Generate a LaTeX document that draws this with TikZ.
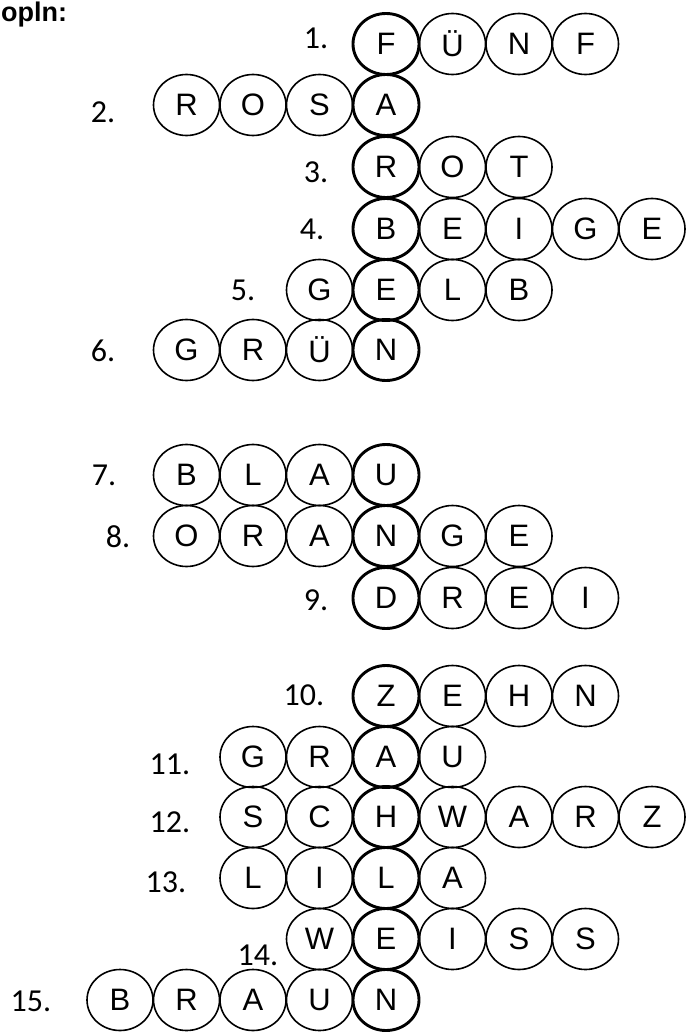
\documentclass[tikz,border=0pt]{standalone}
\usepackage{fontspec}
\setmainfont{Liberation Sans}
\newfontfamily\numfont{Carlito}
\usetikzlibrary{shapes.geometric}
\tikzset{
  cell/.style={draw=black, ellipse, line width=1.6pt, minimum width=66pt, minimum height=61pt, inner sep=0pt, font=\fontsize{31}{31}\selectfont},
  keycell/.style={cell, line width=2.9pt},
  lbl/.style={inner sep=0pt, font=\numfont\fontsize{32}{32}\selectfont},
  headtxt/.style={inner sep=0pt, anchor=base west, font=\bfseries\fontsize{27}{27}\selectfont}
}
\begin{document}
\begin{tikzpicture}[x=1pt,y=-1pt]
\useasboundingbox (0,0) rectangle (689,1032);
\clip (0,0) rectangle (689,1032);
\node[headtxt] (head) at (1,22) {opln:};
% rows: number / centre y / first column / letters
\foreach \r/\yy/\s/\word in {
  1/44/0/{F,Ü,N,F},
  2/105/-3/{R,O,S,A},
  3/167/0/{R,O,T},
  4/229/0/{B,E,I,G,E},
  5/290/-1/{G,E,L,B},
  6/350/-3/{G,R,Ü,N},
  7/475/-3/{B,L,A,U},
  8/536/-3/{O,R,A,N,G,E},
  9/598/0/{D,R,E,I},
  10/696/0/{Z,E,H,N},
  11/757/-2/{G,R,A,U},
  12/817/-2/{S,C,H,W,A,R,Z},
  13/878/-2/{L,I,L,A},
  14/939/-1/{W,E,I,S,S},
  15/1000/-4/{B,R,A,U,N}}{
  \foreach \L [count=\i from \s] in \word {
    \pgfmathtruncatemacro\j{\i+4}
    \ifnum\i=0 \def\sty{keycell}\else\def\sty{cell}\fi
    \node[\sty] (r\r c\j) at ({386+66.5*\i},\yy) {\L};
  }
}
\node[lbl] (n1) at (316,38) {1.};
\node[lbl] (n2) at (103,112) {2.};
\node[lbl] (n3) at (316,172) {3.};
\node[lbl] (n4) at (312,229) {4.};
\node[lbl] (n5) at (243,290) {5.};
\node[lbl] (n6) at (103,351) {6.};
\node[lbl] (n7) at (104,475) {7.};
\node[lbl] (n8) at (118,537) {8.};
\node[lbl] (n9) at (316,600) {9.};
\node[lbl] (n10) at (304,695) {10.};
\node[lbl] (n11) at (170,764) {11.};
\node[lbl] (n12) at (170,822) {12.};
\node[lbl] (n13) at (166,882) {13.};
\node[lbl] (n14) at (258,955) {14.};
\node[lbl] (n15) at (31,1001) {15.};
\end{tikzpicture}
\end{document}
